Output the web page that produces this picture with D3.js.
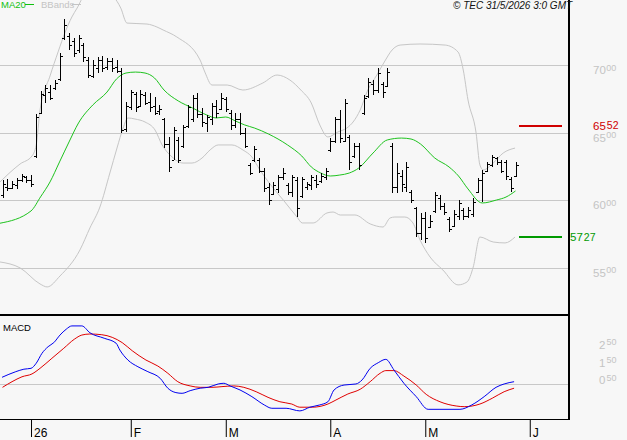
<!DOCTYPE html>
<html lang="en">
<head>
<meta charset="UTF-8">
<title>Bar chart with MA20, Bollinger bands and MACD</title>
<script src="https://cdn.jsdelivr.net/npm/d3@7"></script>
<style>
  body { margin: 0; background: #f7f7f7; }
  svg { display: block; font-family: 'Liberation Sans', Arial, sans-serif; }
  .lbl { fill: #c4c4c4; }
</style>
</head>
<body>
<svg id="chart" width="627" height="440"></svg>
<script>
// daily bars, index 0 = first session shown (late December)
const highs = [6150,6156,6143,6165,6195,6180,6185,6637,6812,6854,
  6854,6891,7089,7341,7237,7200,7224,7163,7064,7039,
  7064,7069,7052,7052,7039,6978,6730,6817,6804,6817,
  6804,6792,6767,6706,6607,6471,6545,6471,6558,6706,
  6780,6792,6681,6632,6718,6743,6792,6767,6669,6644,
  6644,6533,6274,6402,6311,6237,6126,6138,6187,6237,
  6126,6187,6175,6175,6138,6187,6187,6200,6237,6459,
  6619,6669,6748,6484,6422,6422,6780,6904,6891,6978,
  6879,6978,6422,6274,6224,6286,6076,5953,5904,5916,
  5891,6064,6039,5978,5879,5928,6002,5941,5953,6015,
  6163,6224,6286,6336,6323,6299,6299,6175,6286];
const lows = [6019,6069,6081,6084,6138,6128,6101,6316,6637,6719,
  6743,6817,6884,7187,7113,7064,7089,7027,6904,6904,
  6941,6953,6965,6953,6941,6496,6508,6669,6656,6693,
  6706,6656,6632,6632,6385,6212,6299,6274,6385,6533,
  6582,6607,6545,6508,6558,6607,6669,6656,6521,6533,
  6484,6385,6187,6286,6200,6064,5965,6039,6052,6150,
  6039,6027,5879,6015,6076,6076,6089,6126,6150,6360,
  6422,6422,6434,6225,6311,6225,6632,6756,6780,6793,
  6756,6842,6052,6052,6064,6064,5978,5730,5706,5682,
  5793,5904,5928,5891,5768,5804,5854,5854,5867,5879,
  6052,5990,6212,6249,6261,6200,6150,6064,6175];
const opens = [6040,6100,6090,6110,6150,6170,6150,6330,6650,6780,
  6800,6830,6900,7200,7220,7180,7110,7150,7040,6920,
  6980,7040,6990,7030,6990,6960,6530,6690,6790,6700,
  6780,6730,6700,6660,6600,6420,6300,6450,6400,6550,
  6600,6760,6640,6570,6600,6700,6680,6750,6650,6560,
  6600,6500,6260,6300,6300,6220,6100,6050,6080,6170,
  6110,6060,6150,6030,6100,6110,6150,6140,6170,6370,
  6440,6600,6440,6470,6330,6400,6650,6770,6860,6820,
  6860,6850,6400,6100,6180,6100,6060,5940,5760,5870,
  5800,5920,6020,5960,5860,5810,5880,5930,5880,5900,
  6060,6150,6220,6260,6310,6280,6280,6160,6180];
const closes = [6120,6090,6120,6150,6180,6150,6120,6620,6790,6830,
  6760,6870,7070,7300,7150,7090,7200,7060,6930,7000,
  7040,6980,7030,6980,6960,6520,6700,6800,6690,6790,
  6720,6690,6650,6680,6420,6250,6520,6300,6540,6690,
  6760,6640,6580,6620,6700,6650,6760,6680,6560,6600,
  6500,6400,6200,6380,6220,6090,6000,6110,6170,6200,
  6060,6170,5940,6160,6120,6170,6120,6180,6220,6440,
  6600,6460,6720,6280,6400,6260,6760,6880,6820,6940,
  6800,6950,6100,6200,6120,6250,6000,5760,5870,5720,
  5850,6040,5960,5910,5790,5900,5980,5880,5930,5990,
  6150,6200,6270,6320,6280,6220,6180,6090,6260];

// indicator readings as [bar index, value]
const ma20 = [[-0.53,5830],[6,5921],[8,6025],[10,6136],[12,6284],[14,6432],[16,6573],[19,6706],
  [22,6802],[24,6899],[26,6943],[28,6950],[30,6943],[32,6906],[34,6817],[37,6736],[40,6684],
  [43,6632],[45,6610],[47,6617],[49,6588],[51,6558],[53,6536],[56,6491],[60,6410],[63,6328],
  [65,6247],[67,6202],[69,6180],[71,6187],[73,6202],[75,6239],[78,6350],[81,6447],[84,6461],
  [86,6454],[88,6417],[91,6313],[94,6247],[96,6180],[98,6084],[101,5980],[104,6002],[106,6024],[108,6069]];
const bandUpper = [[-0.53,6136],[3.7,6269],[6.2,6328],[7.1,6410],[7.9,6669],[10,6921],[11.7,7099],
  [13.2,7247],[14.6,7358],[15.7,7424],[17.4,7528],[20.5,7573],[23.3,7513],[24.9,7424],[26.2,7313],
  [30.4,7306],[32.5,7284],[33.8,7262],[36.7,7210],[41.6,7039],[42.6,6950],[44.1,6854],[47.3,6854],
  [50.6,6817],[54.8,6869],[57.8,6928],[60.5,6891],[62.8,6817],[65,6721],[66.8,6558],[68.5,6469],
  [70.6,6506],[72.5,6536],[73.8,6580],[75.3,6669],[76.9,6817],[78.8,6928],[80.5,7032],[82,7113],
  [83.7,7150],[87.9,7158],[93.2,7150],[95.9,7099],[97,6965],[98,6743],[99.7,6499],[100.5,6262],
  [101.2,6225],[103.3,6276],[105.4,6350],[107.9,6387]];
const bandLower = [[-0.53,5543],[3.7,5499],[7.9,5380],[9.4,5358],[12.1,5439],[16.3,5632],[18.4,5795],
  [20.5,5950],[22.6,6202],[24.1,6387],[25.4,6536],[26.4,6610],[27.9,6602],[30,6580],[32.1,6521],
  [33.6,6410],[35.7,6321],[38,6276],[39.9,6276],[42,6313],[43.7,6373],[45.4,6410],[48.3,6410],
  [50.6,6373],[52.5,6321],[54.2,6224],[56.3,6121],[59.1,6002],[62,5876],[63.1,5832],[65.4,5832],
  [68.3,5906],[69.6,5913],[71.1,5891],[74.2,5891],[77.4,5825],[80.1,5802],[81.6,5869],[82.6,5876],
  [84.7,5876],[86.4,5832],[87.9,5706],[90,5580],[92.7,5484],[95.9,5373],[97.8,5395],[99.1,5506],
  [100.5,5728],[103.3,5691],[105.8,5684],[107.9,5728]];
const macdLine = [[-0.1,38],[2.8,70],[4.5,84],[6,89],[7.1,118],[8.3,174],[9.6,212],[10.8,235],
  [12.1,278],[13.4,311],[14.6,330],[16.7,330],[18.4,291],[21.4,260],[23.9,232],[24.7,193],[26.4,136],
  [28.5,98],[30.6,70],[33.2,32],[34.8,-24],[36.5,-49],[37.8,-53],[39.5,-38],[41.6,-24],[43.3,-19],
  [45.4,0],[46.6,4],[47.9,-11],[50,-34],[52.5,-72],[55.1,-119],[56.7,-138],[59.7,-138],[62.6,-153],
  [64.7,-132],[66.8,-119],[68.5,-101],[69.8,-34],[71.9,-6],[74.4,0],[75.7,23],[77.4,89],[79.1,121],
  [80.7,140],[82.4,80],[84.5,4],[87.1,-72],[89.6,-144],[92.1,-144],[96.3,-144],[98.8,-119],
  [101.4,-72],[103.9,-19],[105.6,0],[107.7,13]];
const signalLine = [[0,-19],[2,13],[4.1,41],[6.2,57],[7.9,89],[10.4,146],[12.9,203],[15.1,254],
  [16.7,278],[18.4,284],[20.9,280],[23.1,265],[25.2,235],[27.3,189],[30.2,136],[32.7,102],[34.8,61],
  [36.9,13],[39.5,-11],[41.6,-19],[44.1,-19],[46.2,-15],[48.7,-11],[50.8,-19],[53.4,-44],[55.9,-76],
  [58.4,-101],[60.9,-114],[62.6,-132],[65.2,-132],[68.5,-114],[70.2,-91],[72.7,-57],[75.3,-30],
  [77.4,13],[79.5,61],[80.7,76],[82.4,76],[84.5,45],[87.1,-6],[89.2,-59],[92.1,-101],[95.5,-125],
  [97.2,-129],[100.5,-114],[103.1,-81],[105.6,-44],[107.7,-24]];

const monthIdx = [6, 27, 47, 69, 89, 111];
const monthLabels = ["26", "F", "M", "A", "M", "J"];
const priceTicks = [5500, 6000, 6500, 7000];
const macdTicks = [50, 150, 250];
const levelHigh = 6552;
const levelLow = 5727;

const plotR = 569, priceBot = 315, macdBot = 419;
const crisp = v => Math.round(v) + 0.5;

const svg = d3.select("#chart");
const x = d3.scaleLinear().domain([-0.53, 119.26]).range([0, plotR]);
const y = d3.scaleLinear().domain([5150, 7484]).range([priceBot, 0]);
const ym = d3.scaleLinear().domain([-199, 392]).range([macdBot, priceBot]);

const defs = svg.append("defs");
defs.append("clipPath").attr("id", "clipP").append("rect")
  .attr("x", 0).attr("y", 0).attr("width", plotR).attr("height", priceBot);
defs.append("clipPath").attr("id", "clipM").append("rect")
  .attr("x", 0).attr("y", priceBot).attr("width", plotR).attr("height", macdBot - priceBot);

// grid
svg.append("g").selectAll("line").data(priceTicks).join("line")
  .attr("x1", 0).attr("x2", plotR)
  .attr("y1", d => crisp(y(d))).attr("y2", d => crisp(y(d)))
  .attr("stroke", "#c8c8c8");
svg.append("line").attr("x1", 0).attr("x2", plotR)
  .attr("y1", crisp(ym(0))).attr("y2", crisp(ym(0))).attr("stroke", "#c8c8c8");

// bands + MA
const lineP = d3.line().x(d => x(d[0])).y(d => y(d[1])).curve(d3.curveMonotoneX);
const gP = svg.append("g").attr("clip-path", "url(#clipP)").attr("fill", "none");
gP.append("path").attr("d", lineP(bandUpper)).attr("stroke", "#c6c6c6");
gP.append("path").attr("d", lineP(bandLower)).attr("stroke", "#c6c6c6");
gP.append("path").attr("d", lineP(ma20)).attr("stroke", "#1ec31e");

// OHLC bars
const idx = d3.range(highs.length);
const gB = svg.append("g").attr("stroke", "#000").attr("shape-rendering", "crispEdges");
gB.selectAll(".hl").data(idx).join("line")
  .attr("x1", i => crisp(x(i))).attr("x2", i => crisp(x(i)))
  .attr("y1", i => Math.round(y(highs[i]))).attr("y2", i => Math.round(y(lows[i])));
gB.selectAll(".op").data(idx).join("line")
  .attr("x1", i => Math.round(x(i)) - 2).attr("x2", i => Math.round(x(i)))
  .attr("y1", i => crisp(y(opens[i]))).attr("y2", i => crisp(y(opens[i])));
gB.selectAll(".cl").data(idx).join("line")
  .attr("x1", i => Math.round(x(i)) + 1).attr("x2", i => Math.round(x(i)) + 3)
  .attr("y1", i => crisp(y(closes[i]))).attr("y2", i => crisp(y(closes[i])));

// MACD
const lineM = d3.line().x(d => x(d[0])).y(d => ym(d[1])).curve(d3.curveMonotoneX);
const gM = svg.append("g").attr("clip-path", "url(#clipM)").attr("fill", "none");
gM.append("path").attr("d", lineM(signalLine)).attr("stroke", "#e00000");
gM.append("path").attr("d", lineM(macdLine)).attr("stroke", "#0000f0");

// frame
svg.append("line").attr("x1", 0).attr("x2", plotR + 1).attr("y1", priceBot).attr("y2", priceBot)
  .attr("stroke", "#000").attr("stroke-width", 2);
svg.append("line").attr("x1", 0).attr("x2", plotR).attr("y1", macdBot + 0.5).attr("y2", macdBot + 0.5)
  .attr("stroke", "#000");
svg.append("line").attr("x1", plotR).attr("x2", plotR).attr("y1", 0).attr("y2", macdBot + 1)
  .attr("stroke", "#000").attr("stroke-width", 2);

// month axis
const gx = svg.append("g").attr("transform", `translate(0,${macdBot})`)
  .call(d3.axisBottom(x).tickValues(monthIdx).tickFormat((d, k) => monthLabels[k])
    .tickSize(18).tickSizeOuter(0));
gx.select(".domain").remove();
gx.selectAll(".tick line").attr("stroke", "#000");
gx.selectAll(".tick text").attr("text-anchor", "start").attr("x", 2.5).attr("y", 18).attr("dy", 0)
  .attr("fill", "#000").attr("font-size", 12).attr("font-family", "'Liberation Sans', Arial, sans-serif");

// price labels, last two digits raised
priceTicks.forEach(v => {
  const s = String(v);
  const t = svg.append("text").attr("class", "lbl").attr("x", 593).attr("y", y(v) + 9);
  t.append("tspan").attr("font-size", 11.5).text(s.slice(0, 2));
  t.append("tspan").attr("font-size", 9).attr("dy", -3.5).attr("dx", 0.5).text(s.slice(2));
});
macdTicks.forEach(v => {
  svg.append("text").attr("class", "lbl").attr("x", 605.5).attr("y", ym(v) + 9)
    .attr("text-anchor", "end").attr("font-size", 11.5).text(Math.floor(v / 100));
  svg.append("text").attr("class", "lbl").attr("x", 606.5).attr("y", ym(v) + 5.5)
    .attr("font-size", 9).text(String(v % 100).padStart(2, "0"));
});

// support / resistance levels
[[levelHigh, "#d00000", 593], [levelLow, "#009a00", 570]].forEach(([v, c, lx]) => {
  svg.append("line").attr("x1", 519).attr("x2", 562).attr("y1", Math.round(y(v))).attr("y2", Math.round(y(v)))
    .attr("stroke", c).attr("stroke-width", 2);
  const s = String(v);
  const t = svg.append("text").attr("x", lx).attr("y", y(v) + 4).attr("fill", c);
  t.append("tspan").attr("font-size", 11.5).text(s.slice(0, 2));
  t.append("tspan").attr("font-size", 10.5).attr("dx", 1).attr("dy", -0.5).text(s.slice(2));
});

// legend and header
svg.append("text").attr("x", 1).attr("y", 8).attr("font-size", 9.5).attr("fill", "#10c010").text("MA20");
svg.append("line").attr("x1", 25).attr("x2", 34).attr("y1", 4.5).attr("y2", 4.5).attr("stroke", "#10c010");
svg.append("text").attr("x", 41).attr("y", 8).attr("font-size", 9.5).attr("fill", "#c4c4c4").text("BBands");
svg.append("line").attr("x1", 72).attr("x2", 81).attr("y1", 4.5).attr("y2", 4.5).attr("stroke", "#c4c4c4");
svg.append("text").attr("x", 453).attr("y", 8.5).attr("font-size", 10).attr("font-style", "italic")
  .attr("fill", "#111").text("© TEC 31/5/2026 3:0 GMT");
svg.append("text").attr("x", 3).attr("y", 331).attr("font-size", 9.5).attr("fill", "#000").text("MACD");
</script>
</body>
</html>
